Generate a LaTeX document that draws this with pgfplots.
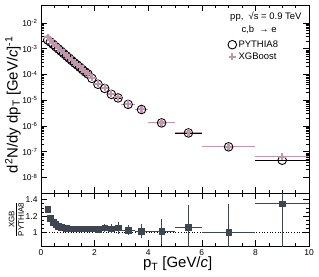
\documentclass[border=0pt]{standalone}
\usepackage{pgfplots}
\pgfplotsset{compat=1.18}
\usepackage{pgfplotstable}
\usepackage{fontspec}
\setmainfont{Liberation Sans}
\definecolor{xgb}{RGB}{196,150,172}
\definecolor{rat}{RGB}{62,70,80}

\pgfplotstableread{
x ex py xgb r er
0.25 0.05 2.19e-3 2.80e-3 1.28 0.012
0.35 0.05 1.82e-3 2.15e-3 1.18 0.010
0.45 0.05 1.48e-3 1.67e-3 1.13 0.010
0.55 0.05 1.20e-3 1.32e-3 1.10 0.010
0.65 0.05 9.77e-4 1.055e-3 1.08 0.010
0.75 0.05 7.94e-4 8.50e-4 1.07 0.010
0.85 0.05 6.46e-4 6.85e-4 1.06 0.010
0.95 0.05 5.25e-4 5.54e-4 1.055 0.010
1.05 0.05 4.27e-4 4.48e-4 1.05 0.010
1.15 0.05 3.47e-4 3.64e-4 1.05 0.010
1.25 0.05 2.82e-4 2.96e-4 1.05 0.012
1.35 0.05 2.34e-4 2.46e-4 1.05 0.012
1.45 0.05 1.91e-4 2.01e-4 1.05 0.014
1.55 0.05 1.55e-4 1.63e-4 1.05 0.015
1.65 0.05 1.26e-4 1.32e-4 1.05 0.016
1.75 0.05 1.05e-4 1.10e-4 1.05 0.018
1.9 0.1 7.08e-5 7.43e-5 1.05 0.022
2.125 0.125 4.17e-5 4.34e-5 1.04 0.03
2.375 0.125 2.88e-5 3.05e-5 1.06 0.045
2.625 0.125 1.70e-5 1.79e-5 1.05 0.05
2.875 0.125 1.23e-5 1.30e-5 1.06 0.07
3.25 0.25 6.92e-6 7.13e-6 1.03 0.06
3.75 0.25 4.37e-6 4.46e-6 1.02 0.08
4.5 0.5 1.32e-6 1.35e-6 1.02 0.15
5.5 0.5 5.37e-7 5.75e-7 1.07 0.26
7 1 1.55e-7 1.57e-7 1.01 0.34
9 1 4.68e-8 6.32e-8 1.35 0.6
}\data

\pgfplotsset{
  common/.style={
    scale only axis, width=268bp, xmin=0, xmax=10,
    xtick={0,2,...,10}, minor x tick num=3,
    tick align=inside, xtick pos=both, ytick pos=both,
    major tick length=6bp, minor tick length=3.5bp,
    axis line style={line width=0.7pt}, tick style={line width=0.6pt, black},
    /pgf/number format/assume math mode=true,
    tick label style={font=\fontsize{8.5}{10}\selectfont},
    label style={font=\fontsize{15}{18}\selectfont},
  }
}

\begin{document}
\begin{tikzpicture}
\useasboundingbox (-41bp,-31bp) rectangle (278bp,246bp);
\begin{axis}[common, at={(0,53bp)}, anchor=south west, height=188bp,
  ymode=log, ymin=2.5e-9, ymax=5e-2,
  ytick={1e-8,1e-7,1e-6,1e-5,1e-4,1e-3,1e-2},
  log number format basis/.code 2 args={#1\textsuperscript{\pgfmathprintnumber[assume math mode=true]{#2}}},
  xticklabels={},
  ylabel={d\textsuperscript{2}N/dy dp\textsubscript{T} [GeV/\textit{c}]\textsuperscript{-1}},
  ylabel style={at={(axis description cs:-0.105,0.47)}, anchor=center},
  legend style={draw=none, fill=none, font=\fontsize{9.5}{11}\selectfont,
     at={(axis description cs:0.697,0.822)}, anchor=north west, row sep=0pt,
     inner sep=0pt},
  legend cell align=left,
  legend image code/.code={\draw[mark repeat=2,mark phase=2,#1] plot coordinates {(0cm,0cm)(0.15cm,0cm)(0.3cm,0cm)};},
]
\addplot[only marks, mark=o, mark size=4.3bp, black, line width=0.9pt,
  error bars/.cd, x dir=both, x explicit, error mark=none,
  error bar style={black, line width=0.8pt}]
  table[x=x, y=py, x error=ex] {\data};
\addplot[only marks, mark=+, mark size=3.6bp, xgb, line width=2.3pt,
  error bars/.cd, x dir=both, x explicit, error mark=none,
  error bar style={xgb, line width=0.9pt}]
  table[x=x, y=xgb, x error=ex] {\data};
\addlegendimage{only marks, mark=o, mark size=3.6bp, black, line width=0.8pt}
\addlegendentry{PYTHIA8}
\addlegendimage{only marks, mark=+, mark size=3.2bp, xgb, line width=2.2pt}
\addlegendentry{XGBoost}
\node[anchor=east, font=\fontsize{9.5}{11}\selectfont] at (axis description cs:0.985,0.935) {pp,\ \ √s = 0.9 TeV};
\node[anchor=west, font=\fontsize{9.5}{11}\selectfont] at (axis description cs:0.735,0.867) {c,b\ \ → e};
\end{axis}
\begin{axis}[common, at={(0,0)}, anchor=south west, height=53bp,
  ymin=0.84, ymax=1.48, ytick={1,1.2,1.4}, minor y tick num=3,
  xlabel={p\textsubscript{T} [GeV/\textit{c}]},
  xlabel style={at={(axis description cs:0.51,0)}, anchor=center, yshift=-18bp},
  ylabel={\fontsize{8}{9}\selectfont\begin{tabular}{@{}c@{}}XGB\\[-1.5pt]\hline\rule{0pt}{8pt}PYTHIA8\end{tabular}},
  ylabel style={at={(axis description cs:-0.088,0.5)}, anchor=center},
]
\addplot[black, dotted, line width=0.7pt] coordinates {(0,1) (10,1)};
\addplot[only marks, mark=square*, mark size=2.9bp, rat,
  error bars/.cd, x dir=both, x explicit, y dir=both, y explicit, error mark=none,
  error bar style={rat, line width=0.8pt}]
  table[x=x, y=r, x error=ex, y error=er] {\data};
\end{axis}
\end{tikzpicture}
\end{document}
